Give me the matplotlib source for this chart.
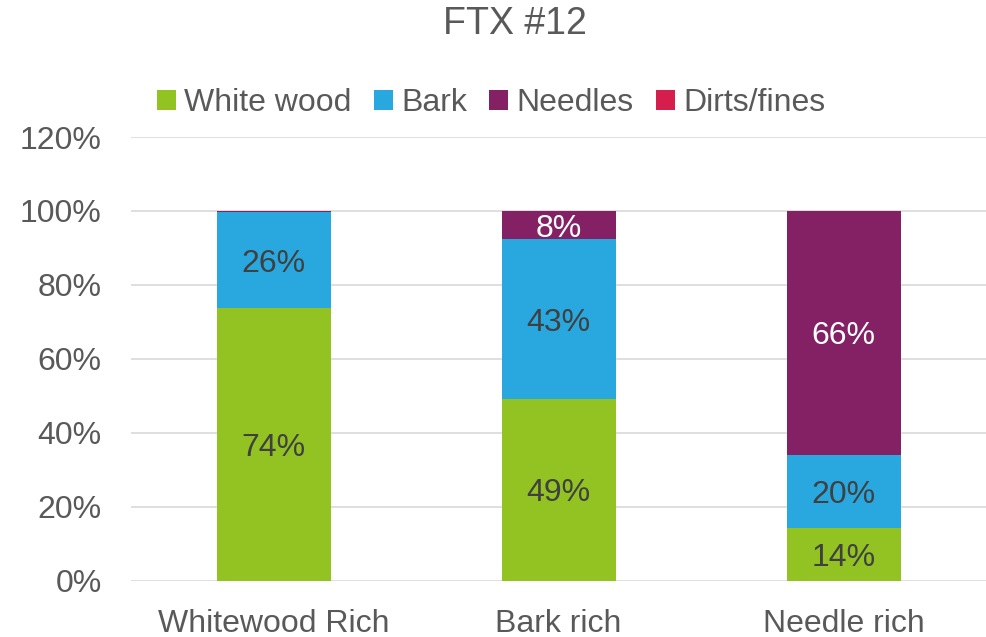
import matplotlib
matplotlib.use("Agg")
import matplotlib.pyplot as plt
import numpy as np

plt.rcParams['font.family'] = ['Liberation Sans', 'DejaVu Sans']

categories = ["Whitewood Rich", "Bark rich", "Needle rich"]
series_names = ["White wood", "Bark", "Needles", "Dirts/fines"]
white_wood = [73.8, 49.2, 14.3]
bark = [25.9, 43.2, 19.8]
needles = [0.3, 7.6, 65.9]
dirts = [0.0, 0.0, 0.0]
colors = ["#92C323", "#29A8E0", "#842165", "#D61E4D"]
label_colors = ["#404040", "#404040", "#FFFFFF", "#FFFFFF"]
yticks = [0, 20, 40, 60, 80, 100, 120]

fig = plt.figure(figsize=(9.86, 6.37), dpi=100)
ax = fig.add_axes([131 / 986, 1 - 581 / 637, 1 - 131 / 986, (581 - 137) / 637])

x = np.arange(len(categories))
bottom = np.zeros(len(categories))
handles = []
for vals, name, col, lcol in zip([white_wood, bark, needles, dirts], series_names, colors, label_colors):
    vals = np.array(vals)
    bars = ax.bar(x, vals, 0.4, bottom=bottom, color=col, label=name, zorder=3)
    handles.append(bars)
    for xi, b, v in zip(x, bottom, vals):
        if v >= 1:
            ax.text(xi, b + v / 2, f"{v:.0f}%", ha="center", va="center_baseline",
                    fontsize=23, color=lcol, zorder=4)
    bottom += vals

ax.set_xlim(-0.5, 2.5)
ax.set_ylim(0, 120)
ax.set_yticks(yticks)
ax.set_yticklabels([f"{t}%" for t in yticks])
ax.set_xticks(x)
ax.set_xticklabels(categories)
ax.tick_params(axis="both", length=0, labelsize=23, colors="#595959")
ax.tick_params(axis="y", pad=21)
ax.tick_params(axis="x", pad=20)
ax.grid(axis="y", color="#D9D9D9", linewidth=1.2, zorder=0)
for s in ax.spines.values():
    s.set_visible(False)

fig.text(515 / 986, 1 - 24 / 637, "FTX #12", ha="center", va="center",
         fontsize=27, color="#595959")

fig.legend(handles=handles, labels=series_names, loc="center",
           bbox_to_anchor=(491 / 986, 1 - 103 / 637), ncol=4, frameon=False,
           fontsize=23, labelcolor="#595959", handlelength=0.6, handleheight=0.6,
           handletextpad=0.25, columnspacing=0.7)

fig.savefig("out.png", dpi=100)
